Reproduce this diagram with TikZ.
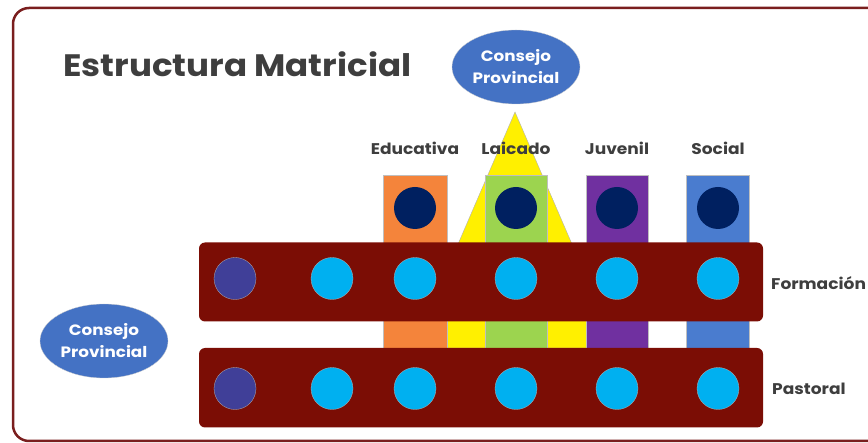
\documentclass[tikz,border=0pt]{standalone}
\usepackage{fontspec}
\setmainfont{Poppins}
\usetikzlibrary{shapes.geometric}
\definecolor{frameC}{HTML}{7A1E1E}
\definecolor{barC}{HTML}{7B0D05}
\definecolor{lightC}{HTML}{00B0F0}
\definecolor{slateC}{HTML}{403F98}
\definecolor{navyC}{HTML}{002060}
\definecolor{orangeC}{HTML}{F4843B}
\definecolor{greenC}{HTML}{9CD44F}
\definecolor{purpleC}{HTML}{7030A0}
\definecolor{colblueC}{HTML}{4A7CCF}
\definecolor{ellblueC}{HTML}{4472C4}
\definecolor{yellowC}{HTML}{FFF000}
\definecolor{textC}{HTML}{3E3E3E}
\newcommand{\wide}[2]{\scalebox{#1}[1]{#2}}
\tikzset{
  colbox/.style={draw=black!25, line width=0.4pt},
  bigdot/.style={circle, fill=navyC, minimum size=42pt, inner sep=0pt},
  bardot/.style={circle, fill=lightC, draw=black!30, line width=0.3pt, minimum size=42pt, inner sep=0pt},
  firstdot/.style={bardot, fill=slateC},
  bar/.style={fill=barC, rounded corners=6pt},
  lbl/.style={text=textC, font=\bfseries\fontsize{15.5}{18}\selectfont, inner sep=0pt},
  council/.style={ellipse, fill=ellblueC, draw=black!20, line width=0.3pt, minimum width=128pt, minimum height=74pt, inner sep=0pt, align=center, text=white, font=\bfseries\fontsize{15}{22}\selectfont},
}
\begin{document}
\begin{tikzpicture}[x=1pt,y=-1pt]
\useasboundingbox (0,0) rectangle (868,443);
\clip (0,0) rectangle (868,443);
% triangle behind columns
\draw[fill=yellowC, draw=black!30, line width=0.4pt] (515,112) -- (413.2,348) -- (616.8,348) -- cycle;
% columns
\path[colbox, fill=orangeC] (383,175) rectangle (447,348);
\path[colbox, fill=greenC] (485,175) rectangle (547,348);
\path[colbox, fill=purpleC] (586,175) rectangle (648,348);
\path[colbox, fill=colblueC] (686,175) rectangle (749,348);
\node[bigdot] (n1) at (415,208) {};
\node[bigdot] (n2) at (516,208) {};
\node[bigdot] (n3) at (617,208) {};
\node[bigdot] (n4) at (718,208) {};
% column labels
\node[lbl] (educ) at (415,148) {\wide{1.1}{Educativa}};
\node[lbl] (laic) at (516,148) {\wide{1.1}{Laicado}};
\node[lbl] (juv) at (617,148) {\wide{1.1}{Juvenil}};
\node[lbl] (soc) at (718,148) {\wide{1.1}{Social}};
% bars
\path[bar] (199,242.5) rectangle (763,321.5);
\path[bar] (199,348) rectangle (763,427.5);
\node[firstdot] (f0) at (235,278.5) {};
\node[bardot] (f1) at (332,278.5) {};
\node[bardot] (f2) at (415,278.5) {};
\node[bardot] (f3) at (516,278.5) {};
\node[bardot] (f4) at (617,278.5) {};
\node[bardot] (f5) at (718,278.5) {};
\node[firstdot] (p0) at (235,388.5) {};
\node[bardot] (p1) at (332,388.5) {};
\node[bardot] (p2) at (415,388.5) {};
\node[bardot] (p3) at (516,388.5) {};
\node[bardot] (p4) at (617,388.5) {};
\node[bardot] (p5) at (718,388.5) {};
\node[lbl, anchor=west] (form) at (771,283) {\wide{1.1}{Formación}};
\node[lbl, anchor=west] (past) at (772,389) {\wide{1.1}{Pastoral}};
% councils
\node[council] (topc) at (516,67) {\wide{1.12}{Consejo}\\\wide{1.12}{Provincial}};
\node[council] (leftc) at (104,341) {\wide{1.12}{Consejo}\\\wide{1.12}{Provincial}};
% title
\node[anchor=west, inner sep=0pt, text=textC, font=\bfseries\fontsize{31}{36}\selectfont] (title) at (63,64) {\wide{1.1}{Estructura Matricial}};
% frame
\draw[frameC, line width=2.5pt, rounded corners=16pt] (13,8) rectangle (900,441);
\end{tikzpicture}
\end{document}
